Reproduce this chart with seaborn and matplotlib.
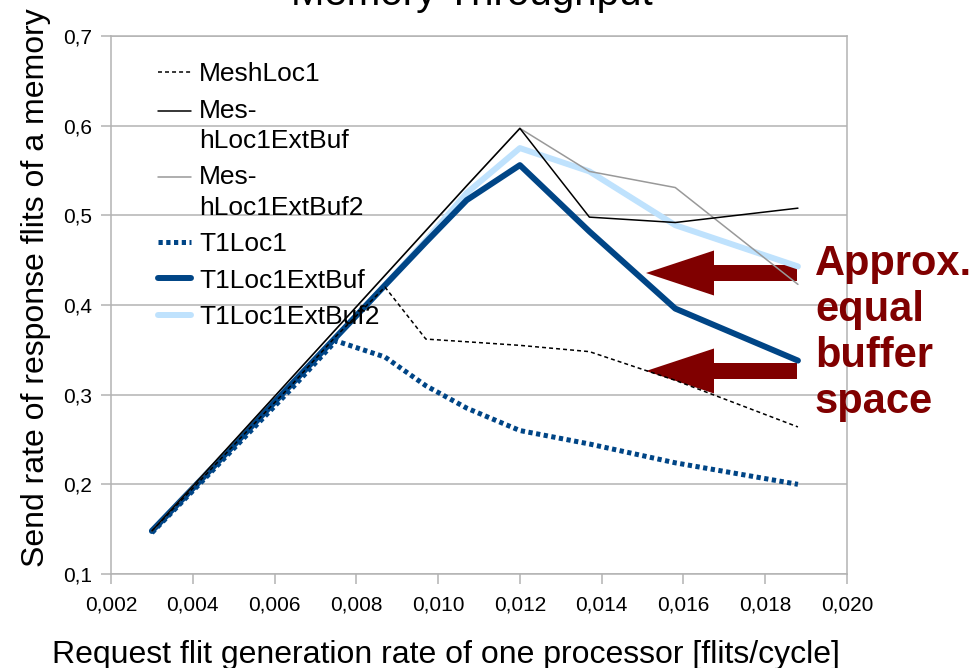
import numpy as np
import pandas as pd
import matplotlib
matplotlib.use("Agg")
import matplotlib.pyplot as plt
import seaborn as sns
from matplotlib.ticker import FuncFormatter, MultipleLocator
from matplotlib.patches import FancyArrow

# Request flit generation rate of one processor [flits/cycle]
x_rate = [0.003, 0.0042, 0.0053, 0.0064, 0.0075, 0.0087, 0.0097, 0.0107, 0.012, 0.0137, 0.0158, 0.0188]

# Send rate of response flits of a memory, per configuration
mesh_loc1 = [0.148, 0.205, 0.258, 0.310, 0.365, 0.420, 0.362, 0.359, 0.355, 0.348, 0.316, 0.264]
mesh_loc1_extbuf = [0.148, 0.208, 0.263, 0.318, 0.373, 0.433, 0.483, 0.533, 0.597, 0.498, 0.492, 0.508]
mesh_loc1_extbuf2 = [0.148, 0.208, 0.263, 0.318, 0.373, 0.433, 0.483, 0.533, 0.597, 0.549, 0.531, 0.423]
t1_loc1 = [0.146, 0.202, 0.254, 0.306, 0.360, 0.342, 0.310, 0.285, 0.260, 0.245, 0.224, 0.200]
t1_loc1_extbuf = [0.148, 0.205, 0.258, 0.311, 0.364, 0.422, 0.470, 0.517, 0.556, 0.482, 0.396, 0.338]
t1_loc1_extbuf2 = [0.148, 0.205, 0.258, 0.311, 0.364, 0.422, 0.472, 0.525, 0.575, 0.549, 0.489, 0.443]

series_labels = ["MeshLoc1", "Mes-\nhLoc1ExtBuf", "Mes-\nhLoc1ExtBuf2",
                 "T1Loc1", "T1Loc1ExtBuf", "T1Loc1ExtBuf2"]

sns.set_theme(style="white")
plt.rcParams["font.family"] = ["Liberation Sans", "DejaVu Sans"]

W, H, DPI = 977, 668, 100
fig = plt.figure(figsize=(W / DPI, H / DPI), dpi=DPI)
ax = fig.add_axes([111 / W, 1 - 574 / H, 736 / W, 538 / H])

BLUE = "#004586"
LIGHT = "#bfe2fd"
GRAY = "#999999"
DARKRED = "#800000"

styles = [
    dict(data=mesh_loc1, color="black", lw=1.1, ls=(0, (2.6, 2.0)), z=6),
    dict(data=mesh_loc1_extbuf, color="black", lw=1.1, ls="-", z=6),
    dict(data=mesh_loc1_extbuf2, color=GRAY, lw=1.1, ls="-", z=5),
    dict(data=t1_loc1, color=BLUE, lw=3.6, ls=(0, (0.85, 0.7)), z=4),
    dict(data=t1_loc1_extbuf, color=BLUE, lw=4.3, ls="-", z=3),
    dict(data=t1_loc1_extbuf2, color=LIGHT, lw=4.3, ls="-", z=2),
]

for lab, st in zip(series_labels, styles):
    df = pd.DataFrame({"rate": x_rate, "send": st["data"]})
    sns.lineplot(data=df, x="rate", y="send", ax=ax, color=st["color"],
                 linewidth=st["lw"], linestyle=st["ls"], errorbar=None,
                 label=lab, zorder=st["z"])

ax.set_xlim(0.002, 0.020)
ax.set_ylim(0.1, 0.7)
ax.xaxis.set_major_locator(MultipleLocator(0.002))
ax.yaxis.set_major_locator(MultipleLocator(0.1))
ax.xaxis.set_major_formatter(FuncFormatter(lambda v, p: f"{v:.3f}".replace(".", ",")))
ax.yaxis.set_major_formatter(FuncFormatter(lambda v, p: f"{v:.1f}".replace(".", ",")))

grid_c = "#b3b3b3"
ax.grid(axis="y", color=grid_c, linewidth=1.1)
ax.grid(axis="x", visible=False)
for sp in ax.spines.values():
    sp.set_color(grid_c)
    sp.set_linewidth(1.1)
ax.tick_params(axis="both", which="major", direction="out", length=7.5, width=1.1,
               color=grid_c, labelsize=15, labelcolor="black", pad=6,
               bottom=True, left=True)
ax.tick_params(axis="x", pad=8)

ax.set_xlabel("Request flit generation rate of one processor [flits/cycle]",
              fontsize=23, labelpad=18, color="black", x=0.455)
ax.set_ylabel("Send rate of response flits of a memory", fontsize=23,
              labelpad=9, color="black", y=0.532)

# Title sits mostly above the top edge of the canvas
fig.text(0.483, 1 - 5 / H, "Memory Throughput", fontsize=29, ha="center",
         va="baseline", color="black")

leg = ax.legend(loc="upper left", bbox_to_anchor=(0.064, 0.951), frameon=False,
                fontsize=19, handlelength=1.25, handletextpad=0.3,
                labelspacing=0.47, borderpad=0, borderaxespad=0)
for text in leg.get_texts():
    text.set_color("black")
    text.set_linespacing(1.33)
# Align the handle of wrapped labels with their first text line
for line, lab in zip(leg.get_lines(), series_labels):
    if "\n" in lab:
        line.set_ydata(np.asarray(line.get_ydata()) + 11.2)

# Annotation arrows, laid out in inches, beneath the data lines
def arrow_at(y_px):
    tail_x, tip_x = 797 / DPI, 646 / DPI
    yc = (H - y_px) / DPI
    arr = FancyArrow(tail_x, yc, tip_x - tail_x, 0, width=16 / DPI,
                     head_width=45 / DPI, head_length=68 / DPI,
                     length_includes_head=True, color=DARKRED, lw=0,
                     transform=fig.dpi_scale_trans, zorder=1.5, clip_on=False)
    ax.add_patch(arr)

arrow_at(273)
arrow_at(371)

fig.text(815 / W, 1 - 413 / H, "Approx.\nequal\nbuffer\nspace", fontsize=30,
         fontweight="bold", color=DARKRED, ha="left", va="baseline",
         linespacing=1.19, multialignment="left")

fig.savefig("out.png", dpi=DPI)
